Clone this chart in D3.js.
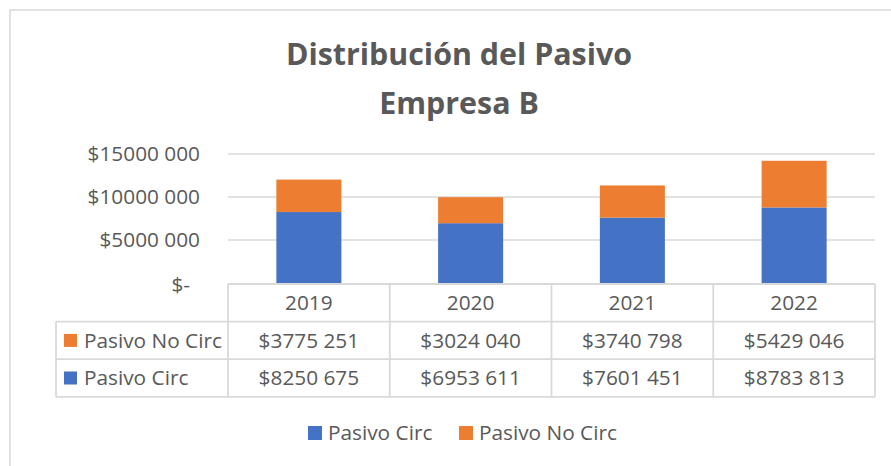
<!DOCTYPE html>
<html><head><meta charset="utf-8">
<script src="https://cdn.jsdelivr.net/npm/d3@7"></script>
<style>html,body{margin:0;padding:0;background:#fff;}svg{display:block;}</style>
</head><body>
<script>
const years = ["2019", "2020", "2021", "2022"];
const pasivoCirc = [8250675, 6953611, 7601451, 8783813];
const pasivoNoCirc = [3775251, 3024040, 3740798, 5429046];
const yTicks = [0, 5000000, 10000000, 15000000];
const seriesNames = ["Pasivo Circ", "Pasivo No Circ"];
const titleLines = ["Distribución del Pasivo", "Empresa B"];

(function () {
const W = 891, H = 466;
const FONT = "'Open Sans', 'Liberation Sans', sans-serif";
const FS = 20.8;
const TXT = "#595959", GRID = "#d9d9d9";
const colors = {"Pasivo Circ": "#4472C4", "Pasivo No Circ": "#ED7D31"};

const svg = d3.select("body").append("svg").attr("width", W).attr("height", H);

svg.append("rect").attr("x", 10).attr("y", 10).attr("width", W + 20).attr("height", H + 20)
  .attr("fill", "#fff").attr("stroke", GRID).attr("stroke-width", 1.5);

svg.append("g").selectAll("text").data(titleLines).join("text")
  .attr("x", 459).attr("y", (d, i) => 65 + i * 49)
  .attr("text-anchor", "middle").attr("font-family", FONT).attr("font-weight", "bold")
  .attr("font-size", 30.4).attr("fill", TXT).text(d => d);

const pLeft = 228, pRight = 875, pTop = 154, pBase = 283;
const x = d3.scaleBand().domain(years).range([pLeft, pRight]).paddingInner(0.598).paddingOuter(0.299);
const col = d3.scaleBand().domain(years).range([pLeft, pRight]);
const y = d3.scaleLinear().domain([0, 15000000]).range([pBase, pTop]);

const fmt = v => {
  if (v === 0) return "$-";
  const s = String(Math.round(v));
  return "$" + s.slice(0, -3) + " " + s.slice(-3);
};

svg.append("g").selectAll("line").data(yTicks.filter(t => t > 0)).join("line")
  .attr("x1", pLeft).attr("x2", pRight).attr("y1", d => y(d)).attr("y2", d => y(d))
  .attr("stroke", GRID).attr("stroke-width", 1.5);

svg.append("g").selectAll("text").data(yTicks).join("text")
  .attr("x", d => d === 0 ? 190 : 200).attr("y", d => y(d) + (d === 0 ? 2 : 0))
  .attr("dy", "0.35em").attr("text-anchor", "end")
  .attr("font-family", FONT).attr("font-size", FS).attr("fill", TXT).text(fmt);

const rows = years.map((yr, i) => ({year: yr, "Pasivo Circ": pasivoCirc[i], "Pasivo No Circ": pasivoNoCirc[i]}));
const stacked = d3.stack().keys(seriesNames)(rows);
svg.append("g").selectAll("g").data(stacked).join("g").attr("fill", d => colors[d.key])
  .selectAll("rect").data(d => d).join("rect")
  .attr("x", d => x(d.data.year)).attr("width", x.bandwidth())
  .attr("y", d => y(d[1])).attr("height", d => y(d[0]) - y(d[1]));

const tLeft = 56, rowH = 37.6;
const r0 = pBase + 1, r1 = r0 + rowH, r2 = r1 + rowH, r3 = r2 + rowH;
const tbl = svg.append("g").attr("stroke", GRID).attr("stroke-width", 1.8).attr("fill", "none");
tbl.append("line").attr("x1", pLeft).attr("x2", pRight).attr("y1", r0).attr("y2", r0);
[r1, r2, r3].forEach(yy => tbl.append("line").attr("x1", tLeft).attr("x2", pRight).attr("y1", yy).attr("y2", yy));
tbl.append("line").attr("x1", tLeft).attr("x2", tLeft).attr("y1", r1).attr("y2", r3);
years.forEach(yr => tbl.append("line").attr("x1", col(yr)).attr("x2", col(yr)).attr("y1", r0).attr("y2", r3));
tbl.append("line").attr("x1", pRight).attr("x2", pRight).attr("y1", r0).attr("y2", r3);

svg.append("g").selectAll("text").data(years).join("text")
  .attr("x", d => col(d) + col.bandwidth() / 2).attr("y", (r0 + r1) / 2).attr("dy", "0.35em")
  .attr("text-anchor", "middle").attr("font-family", FONT).attr("font-size", FS).attr("fill", TXT).text(d => d);

const tableRows = [
  {name: "Pasivo No Circ", vals: pasivoNoCirc, yc: (r1 + r2) / 2},
  {name: "Pasivo Circ", vals: pasivoCirc, yc: (r2 + r3) / 2}
];
tableRows.forEach(r => {
  svg.append("rect").attr("x", 64).attr("y", r.yc - 6.5).attr("width", 13).attr("height", 13).attr("fill", colors[r.name]);
  svg.append("text").attr("x", 84).attr("y", r.yc).attr("dy", "0.35em")
    .attr("font-family", FONT).attr("font-size", FS).attr("fill", TXT).text(r.name);
  svg.append("g").selectAll("text").data(r.vals).join("text")
    .attr("x", (d, i) => col(years[i]) + col.bandwidth() / 2).attr("y", r.yc).attr("dy", "0.35em")
    .attr("text-anchor", "middle").attr("font-family", FONT).attr("font-size", FS).attr("fill", TXT).text(fmt);
});

const legX = [308, 459];
const leg = svg.append("g").selectAll("g").data(seriesNames).join("g")
  .attr("transform", (d, i) => `translate(${legX[i]},433)`);
leg.append("rect").attr("x", 0).attr("y", -7).attr("width", 14).attr("height", 14).attr("fill", d => colors[d]);
leg.append("text").attr("x", 20).attr("y", 0).attr("dy", "0.35em")
  .attr("font-family", FONT).attr("font-size", FS).attr("fill", TXT).text(d => d);
})();
</script>
</body></html>
